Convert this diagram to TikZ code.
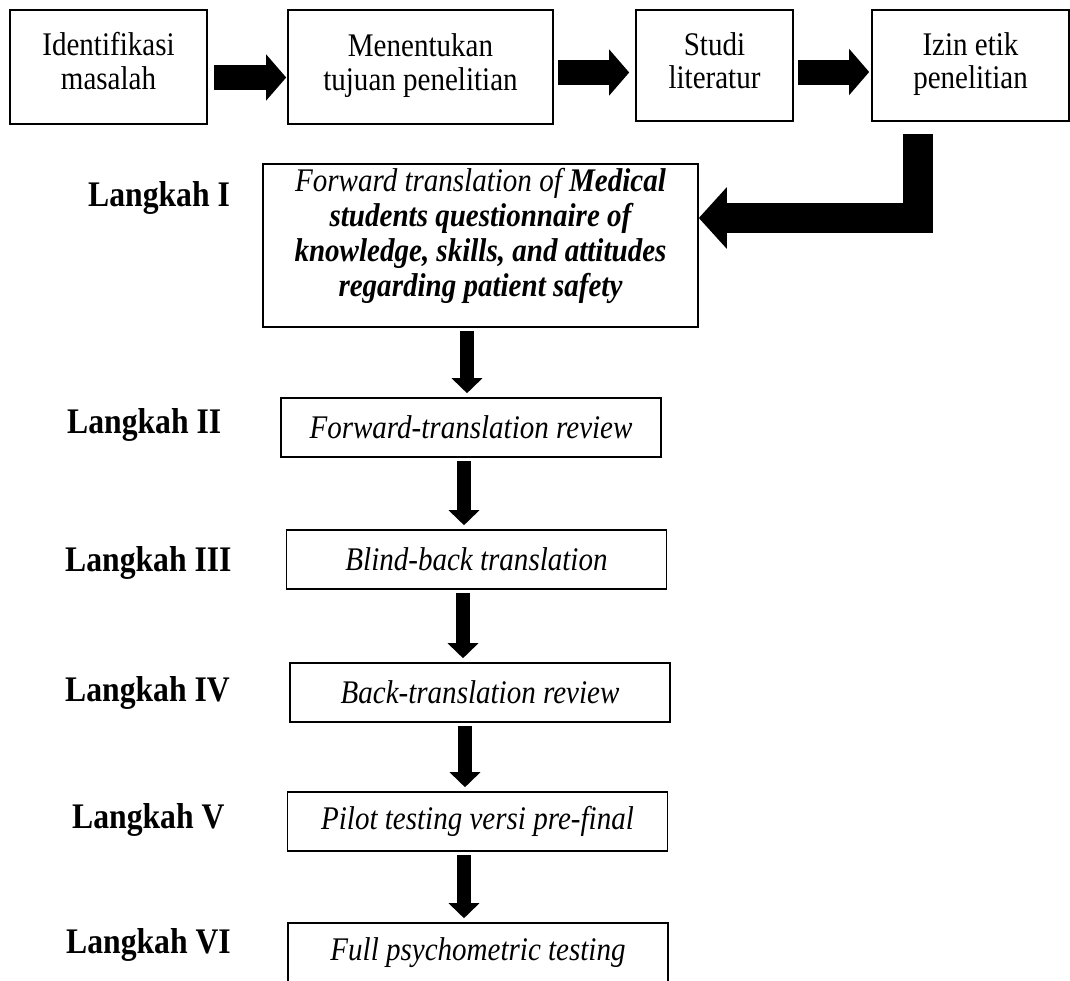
\documentclass[tikz,border=0pt]{standalone}
\usepackage{fontspec}
\setmainfont{Liberation Serif}[FakeStretch=0.88]
\usetikzlibrary{arrows.meta,calc,positioning}
\definecolor{FlowInk}{HTML}{000000}
\newcommand{\lifted}[2]{\raisebox{#1}[\height][\depth]{\begin{tabular}{@{}c@{}}#2\end{tabular}}}
\tikzset{
  every node/.style={text=FlowInk},
  topbox/.style={draw=FlowInk, line width=1.6pt, inner sep=0pt, align=center, font=\fontsize{33}{33.5}\selectfont},
  stepbox/.style={draw=FlowInk, line width=1.6pt, inner sep=0pt, align=center, minimum width=380pt, minimum height=59pt, font=\fontsize{33}{35}\selectfont\itshape},
  steplabel/.style={anchor=west, inner sep=0pt, font=\fontsize{36}{40}\selectfont\bfseries},
  sidearrow/.style={-{Triangle[length=20pt,width=45pt]}, draw=FlowInk, line width=25pt},
  downarrow/.style={-{Triangle[length=15pt,width=30pt]}, draw=FlowInk, line width=14pt, shorten <=3pt, shorten >=4pt},
  bendarrow/.style={-{Triangle[length=28pt,width=60pt]}, draw=FlowInk, line width=30pt, line join=miter},
}
\begin{document}
\begin{tikzpicture}[x=1pt, y=-1pt]
  \useasboundingbox (0,0) rectangle (1070,980);
  % Top row
  \node[topbox, minimum width=197pt, minimum height=114pt] (t1) at (108.5,67) {\lifted{1pt}{Identifikasi\\masalah}};
  \node[topbox, minimum width=265pt, minimum height=114pt] (t2) at (420.5,67) {\lifted{0pt}{Menentukan\\tujuan penelitian}};
  \node[topbox, minimum width=157pt, minimum height=111pt] (t3) at (714.5,65.5) {\lifted{0pt}{Studi\\literatur}};
  \node[topbox, minimum width=197pt, minimum height=111pt] (t4) at (970.5,65.5) {\lifted{0pt}{Izin etik\\penelitian}};
  \draw[sidearrow, shorten <=6pt, shorten >=1pt] ([yshift=-10.5pt]t1.east) -- ([yshift=-10.5pt]t1.east -| t2.west);
  \draw[sidearrow, shorten <=4pt, shorten >=6pt] ([yshift=-5.5pt]t2.east) -- ([yshift=-5.5pt]t2.east -| t3.west);
  \draw[sidearrow, shorten <=4pt, shorten >=2pt] ([yshift=-6.5pt]t3.east) -- ([yshift=-6.5pt]t3.east -| t4.west);
  % Steps
  \node[stepbox, minimum width=435pt, minimum height=163pt] (s1) at (480.5,245.5)
    {\lifted{9pt}{Forward translation of \textbf{Medical}\\\textbf{students questionnaire of}\\\textbf{knowledge, skills, and attitudes}\\\textbf{regarding patient safety}}};
  \node[stepbox] (s2) at (471,427.5) {Forward-translation review};
  \node[stepbox] (s3) at (476.5,559.5) {Blind-back translation};
  \node[stepbox] (s4) at (480,692.5) {Back-translation review};
  \node[stepbox] (s5) at (477.5,821.5) {Pilot testing versi pre-final};
  \node[stepbox, minimum height=60pt] (s6) at (478,953) {Full psychometric testing};
  % Elbow from the top row into step I
  \draw[bendarrow] ([xshift=-52.5pt,yshift=-12pt]t4.south) |- ([yshift=27.5pt]s1.east);
  % Arrows between steps
  \foreach \a/\b/\dx in {s1/s2/-13.5, s2/s3/-7, s3/s4/-13.5, s4/s5/-15, s5/s6/-13.5}
    \draw[downarrow] ([xshift=\dx pt]\a.south) -- ([xshift=\dx pt]\a.south |- \b.north);
  % Step labels
  \foreach \nm/\x/\y/\lbl in {l1/88/198/I, l2/67/425/II, l3/65/563/III, l4/65/693/IV, l5/72/820/V, l6/66/945/VI}
    \node[steplabel] (\nm) at (\x,\y) {Langkah \lbl};
\end{tikzpicture}
\end{document}
